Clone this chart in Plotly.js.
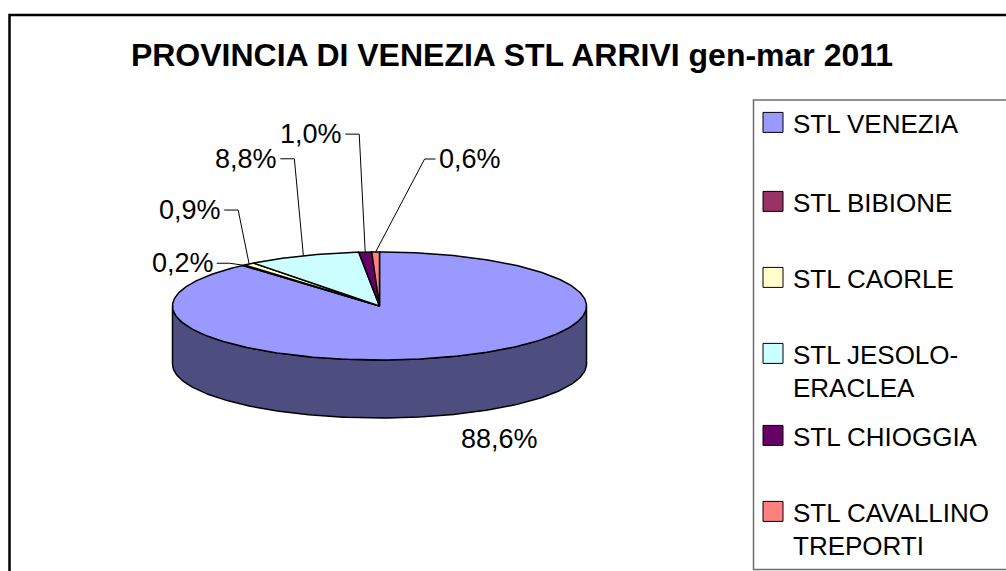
<!DOCTYPE html>
<html><head><meta charset="utf-8">
<script src="https://cdn.plot.ly/plotly-3.0.1.min.js"></script>
<style>html,body{margin:0;padding:0;background:#fff;} #chart{width:1006px;height:571px;}</style>
</head><body><div id="chart"></div>
<script>
// ---------------- data ----------------
const categories = ['STL VENEZIA','STL BIBIONE','STL CAORLE','STL JESOLO-ERACLEA','STL CHIOGGIA','STL CAVALLINO TREPORTI'];
const legendLabels = ['STL VENEZIA','STL BIBIONE','STL CAORLE','STL JESOLO-<br>ERACLEA','STL CHIOGGIA','STL CAVALLINO<br>TREPORTI'];
const shares = [88.6, 0.2, 0.9, 8.8, 1.0, 0.6];
const colors = ['#9999FF','#993366','#FFFFCC','#CCFFFF','#660066','#FF8080'];
const sideColors = ['#4D4D80','#4D1A33','#808066','#668080','#330033','#804040'];
const chartTitle = 'PROVINCIA DI VENEZIA STL ARRIVI gen-mar 2011';

// ---------------- layout / style constants ----------------
const W = 1006, H = 571;
const PX = 207;                 // pixels per unit radius
const CX = 379.5, CY = 306;     // pixel position of the pie centre
const TILT = 54 / 207;          // vertical squash of the pie top
const DEPTH = 58 / 207;         // thickness of the pie
const FONT = 'Liberation Sans, Arial, sans-serif';
// label offsets in pixels from the slice anchor
const labelOffsets = [
  {dx: 47, dy: 24, bottom: true},
  {dx: -28, dy: -2, elbow: 14},
  {dx: -26, dy: -54, elbow: 15},
  {dx: -24, dy: -97, elbow: 15},
  {dx: -21, dy: -118, elbow: 15},
  {dx: 61, dy: -93, elbow: 12}
];
const legendLineY = [124, 203, 279, 355, 437, 513];
const LEG_X = 753, LEG_OFF = 25;

// ---------------- geometry ----------------
const total = shares.reduce((a, b) => a + b, 0);
const starts = [], ends = [];
let acc = 0;
shares.forEach(v => { starts.push(acc / total * 360); acc += v; ends.push(acc / total * 360); });

function pt(theta, drop) {
  const r = theta * Math.PI / 180;
  return [Math.sin(r), TILT * Math.cos(r) - (drop ? DEPTH : 0)];
}
function arc(a0, a1, drop) {
  const n = Math.max(2, Math.ceil(Math.abs(a1 - a0)) + 1);
  const xs = [], ys = [];
  for (let i = 0; i < n; i++) {
    const p = pt(a0 + (a1 - a0) * i / (n - 1), drop);
    xs.push(p[0]); ys.push(p[1]);
  }
  return [xs, ys];
}

const traces = [];
// side walls (front half only)
shares.forEach((v, i) => {
  const s0 = Math.max(starts[i], 90), s1 = Math.min(ends[i], 270);
  if (s1 <= s0) return;
  const top = arc(s0, s1, false), bot = arc(s1, s0, true);
  const xs = top[0].concat(bot[0]); xs.push(top[0][0]);
  const ys = top[1].concat(bot[1]); ys.push(top[1][0]);
  traces.push({type: 'scatter', mode: 'lines', x: xs, y: ys, fill: 'toself',
    fillcolor: sideColors[i], line: {color: '#000', width: 1.5}, showlegend: false, hoverinfo: 'skip'});
});
// top faces
shares.forEach((v, i) => {
  const a = arc(starts[i], ends[i], false);
  traces.push({type: 'scatter', mode: 'lines', name: categories[i],
    x: [0].concat(a[0], [0]), y: [0].concat(a[1], [0]), fill: 'toself',
    fillcolor: colors[i], line: {color: '#000', width: 1.5}, showlegend: false, hoverinfo: 'skip'});
});

// labels + leader lines
const annotations = [];
shares.forEach((v, i) => {
  const mid = (starts[i] + ends[i]) / 2;
  const o = labelOffsets[i];
  const A = pt(mid, !!o.bottom);
  const T = [A[0] + o.dx / PX, A[1] - o.dy / PX];
  const txt = v.toFixed(1).replace('.', ',') + '%';
  annotations.push({x: T[0], y: T[1], xref: 'x', yref: 'y', text: txt, showarrow: false,
    xanchor: o.bottom ? 'center' : (o.dx < 0 ? 'right' : 'left'), yanchor: 'middle',
    font: {family: FONT, size: 27, color: '#000'}});
  if (!o.bottom) {
    const sgn = o.dx < 0 ? 1 : -1;
    const E = [T[0] + sgn * o.elbow / PX, T[1]];
    const T2 = [T[0] + sgn * 1 / PX, T[1]];
    traces.push({type: 'scatter', mode: 'lines', x: [A[0], E[0], T2[0]], y: [A[1], E[1], T2[1]],
      line: {color: '#000', width: 1}, showlegend: false, hoverinfo: 'skip'});
  }
});

// legend entries
const layout = {
  width: W, height: H,
  margin: {l: 0, r: 0, t: 0, b: 0},
  paper_bgcolor: '#fff', plot_bgcolor: '#fff',
  title: {text: chartTitle, x: 512 / W, xanchor: 'center', xref: 'container',
    y: 1 - 55 / H, yanchor: 'middle', yref: 'container',
    font: {family: FONT, size: 32, weight: 700, color: '#000'}},
  xaxis: {range: [-CX / PX, (W - CX) / PX], visible: false, fixedrange: true},
  yaxis: {range: [-(H - CY) / PX, CY / PX], visible: false, fixedrange: true},
  annotations: annotations,
  shapes: [
    {type: 'rect', xref: 'paper', yref: 'paper', x0: 9.5 / W, y0: 1 - 15 / H, x1: 1.05, y1: -0.05,
      line: {color: '#000', width: 2.5}, fillcolor: 'rgba(0,0,0,0)'},
    {type: 'rect', xref: 'paper', yref: 'paper', x0: 753.5 / W, y0: 1 - 100 / H, x1: 1.05, y1: 1 - 569.5 / H,
      line: {color: '#6d6d6d', width: 1.5}, fillcolor: 'rgba(0,0,0,0)'}
  ]
};
categories.forEach((c, i) => {
  const key = i === 0 ? 'legend' : 'legend' + (i + 1);
  traces.push({type: 'scatter', mode: 'markers', x: [null], y: [null], name: legendLabels[i],
    legend: key, showlegend: true, hoverinfo: 'skip',
    marker: {symbol: 'square', size: 16, color: colors[i], line: {color: '#000', width: 1}}});
  layout[key] = {x: LEG_X / W, xanchor: 'left', y: 1 - (legendLineY[i] - LEG_OFF) / H, yanchor: 'top',
    bgcolor: 'rgba(0,0,0,0)', borderwidth: 0, valign: 'top',
    font: {family: FONT, size: 26, color: '#000'}};
});

Plotly.newPlot('chart', traces, layout, {staticPlot: true, displayModeBar: false}).then(gd => {
  // enlarge the legend swatches to the reference's ~20px squares
  gd.querySelectorAll('.legendpoints path.scatterpts').forEach(p => {
    p.setAttribute('d', 'M-10,-10H10V10H-10Z');
  });
});
</script>
</body></html>
